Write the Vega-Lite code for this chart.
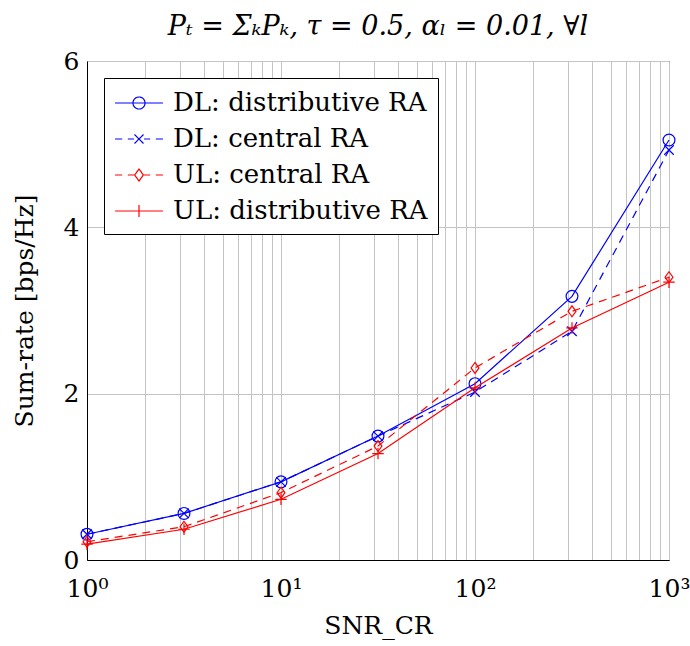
{
  "$schema": "https://vega.github.io/schema/vega-lite/v6.json",
  "width": 582,
  "height": 499,
  "autosize": "none",
  "padding": {"left": 87, "top": 61, "right": 21, "bottom": 86},
  "background": "white",
  "config": {
    "font": "DejaVu Serif",
    "view": {"stroke": "black", "strokeWidth": 1},
    "axis": {
      "labelFont": "DejaVu Serif",
      "titleFont": "DejaVu Serif",
      "labelFontSize": 25,
      "titleFontSize": 25,
      "titleFontWeight": "normal",
      "labelColor": "black",
      "titleColor": "black",
      "domainColor": "black",
      "gridColor": "#c4c4c4",
      "gridWidth": 1,
      "ticks": false,
      "labelFlush": false
    }
  },
  "title": {
    "text": "Pₜ = ΣₖPₖ, τ = 0.5, αₗ = 0.01, ∀l",
    "font": "DejaVu Serif",
    "fontStyle": "italic",
    "fontSize": 27,
    "fontWeight": "normal",
    "color": "black",
    "anchor": "middle",
    "offset": 8
  },
  "data": {
    "values": [
      {"series": "DL: distributive RA", "snr": 1, "rate": 0.31},
      {"series": "DL: distributive RA", "snr": 3.162, "rate": 0.56},
      {"series": "DL: distributive RA", "snr": 10, "rate": 0.94},
      {"series": "DL: distributive RA", "snr": 31.62, "rate": 1.49},
      {"series": "DL: distributive RA", "snr": 100, "rate": 2.12},
      {"series": "DL: distributive RA", "snr": 316.2, "rate": 3.17},
      {"series": "DL: distributive RA", "snr": 1000, "rate": 5.05},
      {"series": "DL: central RA", "snr": 1, "rate": 0.31},
      {"series": "DL: central RA", "snr": 3.162, "rate": 0.56},
      {"series": "DL: central RA", "snr": 10, "rate": 0.94},
      {"series": "DL: central RA", "snr": 31.62, "rate": 1.49},
      {"series": "DL: central RA", "snr": 100, "rate": 2.02},
      {"series": "DL: central RA", "snr": 316.2, "rate": 2.75},
      {"series": "DL: central RA", "snr": 1000, "rate": 4.93},
      {"series": "UL: central RA", "snr": 1, "rate": 0.22},
      {"series": "UL: central RA", "snr": 3.162, "rate": 0.40},
      {"series": "UL: central RA", "snr": 10, "rate": 0.81},
      {"series": "UL: central RA", "snr": 31.62, "rate": 1.37},
      {"series": "UL: central RA", "snr": 100, "rate": 2.31},
      {"series": "UL: central RA", "snr": 316.2, "rate": 2.99},
      {"series": "UL: central RA", "snr": 1000, "rate": 3.40},
      {"series": "UL: distributive RA", "snr": 1, "rate": 0.19},
      {"series": "UL: distributive RA", "snr": 3.162, "rate": 0.37},
      {"series": "UL: distributive RA", "snr": 10, "rate": 0.73},
      {"series": "UL: distributive RA", "snr": 31.62, "rate": 1.28},
      {"series": "UL: distributive RA", "snr": 100, "rate": 2.07},
      {"series": "UL: distributive RA", "snr": 316.2, "rate": 2.79},
      {"series": "UL: distributive RA", "snr": 1000, "rate": 3.34}
    ]
  },
  "encoding": {
    "x": {
      "field": "snr",
      "type": "quantitative",
      "scale": {"type": "log", "domain": [1, 1000], "nice": false},
      "axis": {
        "title": "SNR_CR",
        "values": [1, 2, 3, 4, 5, 6, 7, 8, 9, 10, 20, 30, 40, 50, 60, 70, 80, 90, 100, 200, 300, 400, 500, 600, 700, 800, 900, 1000],
        "labelExpr": "datum.value == 1 ? '10⁰' : datum.value == 10 ? '10¹' : datum.value == 100 ? '10²' : datum.value == 1000 ? '10³' : ''",
        "labelPadding": 16,
        "labelOverlap": false,
        "titlePadding": 12
      }
    },
    "y": {
      "field": "rate",
      "type": "quantitative",
      "scale": {"domain": [0, 6], "nice": false},
      "axis": {
        "title": "Sum-rate [bps/Hz]",
        "values": [0, 2, 4, 6],
        "labelPadding": 8,
        "titlePadding": 26
      }
    },
    "color": {
      "field": "series",
      "type": "nominal",
      "sort": ["DL: distributive RA", "DL: central RA", "UL: central RA", "UL: distributive RA"],
      "scale": {
        "domain": ["DL: distributive RA", "DL: central RA", "UL: central RA", "UL: distributive RA"],
        "range": ["#0000ff", "#0000ff", "#ff0000", "#ff0000"]
      },
      "legend": {
        "title": null,
        "orient": "top-left",
        "offset": 17,
        "padding": 10,
        "strokeColor": "black",
        "fillColor": "white",
        "cornerRadius": 0,
        "labelFont": "DejaVu Serif",
        "labelFontSize": 26,
        "labelColor": "black",
        "labelLimit": 0,
        "labelOffset": 19,
        "symbolOffset": 10,
        "rowPadding": 8,
        "symbolSize": 784,
        "symbolStrokeWidth": 1.2,
        "encoding": {
          "symbols": {
            "fill": {"value": "transparent"},
            "strokeDash": {"value": [1, 0]},
            "shape": {"value": {"expr": "datum.value === 'DL: distributive RA' ? 'M-1.71,0H1.71M-0.43,0A0.43,0.43 0 1,0 0.43,0A0.43,0.43 0 1,0 -0.43,0' : datum.value === 'DL: central RA' ? 'M-1.71,0H-1.2M-0.8,0H-0.36M0.36,0H0.8M1.2,0H1.71M-0.32,-0.32L0.32,0.32M-0.32,0.32L0.32,-0.32' : datum.value === 'UL: central RA' ? 'M-1.71,0H-1.2M-0.8,0H-0.36M0.36,0H0.8M1.2,0H1.71M0,-0.43L0.31,0L0,0.43L-0.31,0Z' : 'M-1.71,0H1.71M0,-0.43V0.43'"}}
          }
        }
      }
    }
  },
  "layer": [
    {
      "transform": [{"filter": "datum.series === 'DL: distributive RA'"}],
      "mark": {"type": "line", "strokeWidth": 1.2}
    },
    {
      "transform": [{"filter": "datum.series === 'DL: distributive RA'"}],
      "mark": {"type": "point", "filled": false, "strokeWidth": 1.2, "opacity": 1, "shape": "circle", "size": 140}
    },
    {
      "transform": [{"filter": "datum.series === 'DL: central RA'"}],
      "mark": {"type": "line", "strokeWidth": 1.2, "strokeDash": [8, 6]}
    },
    {
      "transform": [{"filter": "datum.series === 'DL: central RA'"}],
      "mark": {"type": "point", "filled": false, "strokeWidth": 1.2, "opacity": 1, "shape": "M-1,-1L1,1M-1,1L1,-1", "size": 90}
    },
    {
      "transform": [{"filter": "datum.series === 'UL: central RA'"}],
      "mark": {"type": "line", "strokeWidth": 1.2, "strokeDash": [8, 6]}
    },
    {
      "transform": [{"filter": "datum.series === 'UL: central RA'"}],
      "mark": {"type": "point", "filled": false, "strokeWidth": 1.2, "opacity": 1, "shape": "M0,-1L0.72,0L0,1L-0.72,0Z", "size": 120}
    },
    {
      "transform": [{"filter": "datum.series === 'UL: distributive RA'"}],
      "mark": {"type": "line", "strokeWidth": 1.2}
    },
    {
      "transform": [{"filter": "datum.series === 'UL: distributive RA'"}],
      "mark": {"type": "point", "filled": false, "strokeWidth": 1.2, "opacity": 1, "shape": "M-1,0L1,0M0,-1L0,1", "size": 130}
    }
  ]
}
